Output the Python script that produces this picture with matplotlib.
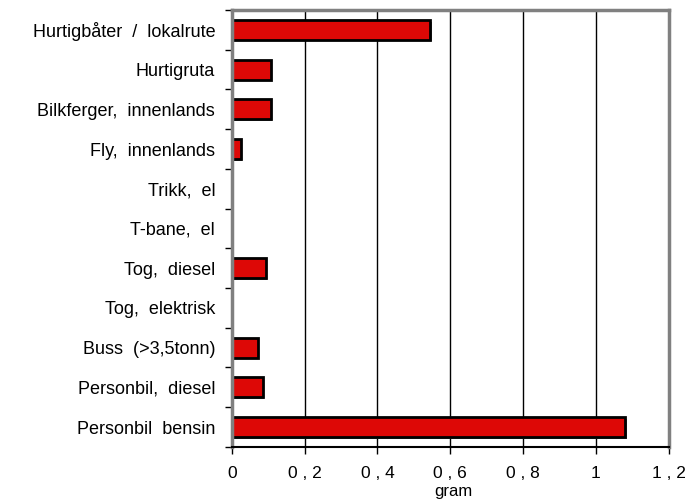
import matplotlib
matplotlib.use('Agg')
from matplotlib import pyplot as plt
import numpy as np

categories = ['Hurtigbåter  /  lokalrute', 'Hurtigruta', 'Bilkferger,  innenlands',
              'Fly,  innenlands', 'Trikk,  el', 'T-bane,  el', 'Tog,  diesel',
              'Tog,  elektrisk', 'Buss  (>3,5tonn)', 'Personbil,  diesel',
              'Personbil  bensin']
values = [0.545, 0.107, 0.107, 0.025, 0.0, 0.0, 0.093, 0.0, 0.071, 0.085, 1.08]
xticks = [0, 0.2, 0.4, 0.6, 0.8, 1.0, 1.2]
xticklabels = ['0', '0 , 2', '0 , 4', '0 , 6', '0 , 8', '1', '1 , 2']

plt.rcParams['font.family'] = ['Liberation Sans', 'DejaVu Sans']

fig = plt.figure(figsize=(6.88, 5.01), dpi=100)
ax = fig.add_axes([0.337, 0.108, 0.635, 0.872])

y = np.arange(len(categories))[::-1]
for xv in xticks[1:-1]:
    ax.axvline(xv, color='black', lw=1, zorder=0)
# shadow
ax.barh(y - 0.04, values, height=0.5, left=0.004, color='#808080', zorder=1)
ax.barh(y, values, height=0.5, color='#DD0806', edgecolor='black', linewidth=2, zorder=2)

ax.set_xlim(0, 1.2)
ax.set_ylim(-0.5, len(categories) - 0.5)
ax.set_yticks(y)
ax.set_yticklabels(categories, fontsize=13)
ax.set_yticks(np.arange(len(categories) + 1) - 0.5, minor=True)
ax.tick_params(axis='y', which='major', length=0, pad=12)
ax.tick_params(axis='y', which='minor', length=5, width=1, color='black')
ax.set_xticks(xticks)
ax.set_xticklabels(xticklabels, fontsize=12.5)
ax.tick_params(axis='x', length=5, width=1, color='black', pad=9)
fig.text(0.5 * (0.337 + 0.972) + 0.004, 0.003, 'gram', ha='center', va='bottom', fontsize=12)

for s in ['top', 'right', 'left']:
    ax.spines[s].set_color('#808080')
    ax.spines[s].set_linewidth(2.5)
ax.spines['bottom'].set_color('black')
ax.spines['bottom'].set_linewidth(1.5)

fig.savefig('out.png', dpi=100)
